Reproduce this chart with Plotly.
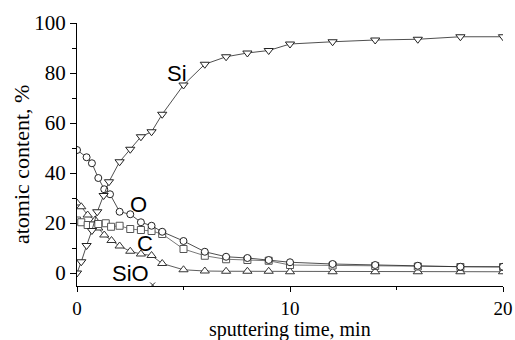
import plotly.graph_objects as go

# ---- data ----
si_x = [0, 0.2, 0.45, 0.7, 0.95, 1.25, 1.5, 2, 2.5, 3, 3.5, 4, 5, 6, 7, 8, 9, 10, 12, 14, 16, 18, 20]
si_y = [0, 4.5, 11, 17, 24.5, 31, 36.5, 44.5, 49.5, 54.5, 56.5, 63.5, 75.2, 83.5, 86.5, 88, 89, 91.6, 92.5, 93.2, 93.5, 94.5, 94.5]

o_x = [0, 0.45, 0.7, 1.0, 1.28, 1.55, 2, 2.5, 3, 3.5, 4, 5, 6, 7, 8, 9, 10, 12, 14, 16, 18, 20]
o_y = [49.2, 46.3, 43.9, 38, 33.5, 31.5, 24.5, 23.5, 20.3, 18.9, 16.5, 12.8, 8.5, 6.5, 6, 5.2, 4.3, 3.6, 3.2, 2.9, 2.5, 2.5]

c_x = [0, 0.2, 0.5, 0.75, 1.0, 1.35, 1.6, 2, 2.5, 3, 3.5, 4, 5, 6, 7, 8, 9, 10, 12, 14, 16, 18, 20]
c_y = [21, 20.3, 19.2, 19, 19.6, 19.9, 18.5, 18.9, 17.6, 17.2, 16.8, 15.6, 9.6, 6.9, 5.5, 5.2, 4.9, 3.2, 3.0, 2.8, 2.6, 2.4, 2.4]

sio_x = [0, 0.2, 0.5, 0.85, 1.0, 1.28, 1.62, 2, 2.5, 3, 3.5, 4, 5, 6, 7, 8, 9, 10, 12, 14, 16, 18, 20]
sio_y = [28, 26.5, 23.2, 21.2, 18, 15.2, 13, 10.8, 8.7, 7.6, 7.0, 3.8, 1.3, 0.8, 0.7, 0.7, 0.7, 0.5, 0.5, 0.5, 0.5, 0.5, 0.5]

x_mark_x = [3.55]
x_mark_y = [-4.8]

labels = ["Si", "O", "C", "SiO"]
label_x = [4.7, 2.9, 3.2, 2.5]
label_y = [80, 27.5, 12, 0]

x_title = "sputtering time, min"
y_title = "atomic content, %"

fig = go.Figure()

def add(xs, ys, symbol, col, size):
    fig.add_trace(go.Scatter(
        x=xs, y=ys, mode="lines+markers",
        line=dict(color=col, width=0.8),
        marker=dict(symbol=symbol, size=size, color="white",
                    line=dict(color=col, width=1)),
        showlegend=False,
    ))

add(sio_x, sio_y, "triangle-up", "#333333", 8)
add(c_x, c_y, "square", "#555555", 7)
add(o_x, o_y, "circle", "#222222", 7)
add(si_x, si_y, "triangle-down", "#222222", 8)

fig.add_trace(go.Scatter(
    x=x_mark_x, y=x_mark_y, mode="markers",
    marker=dict(symbol="x-thin", size=5, line=dict(color="#222222", width=1)),
    showlegend=False,
))

for t, xx, yy in zip(labels, label_x, label_y):
    fig.add_annotation(x=xx, y=yy, text=t, showarrow=False,
                       font=dict(family="Liberation Sans", size=22, color="black"),
                       xanchor="center", yanchor="middle")

ytick_font = dict(family="Liberation Serif", size=21, color="black")
xtick_font = dict(family="Liberation Serif", size=19, color="black")
ytitle_font = dict(family="Liberation Serif", size=22, color="black")
xtitle_font = dict(family="Liberation Serif", size=20, color="black")

# axis titles as annotations for exact placement
fig.add_annotation(xref="paper", yref="paper", x=0.5, y=0, yanchor="top",
                   xanchor="center", yshift=-31, text=x_title,
                   showarrow=False, font=xtitle_font, borderpad=0)
fig.add_annotation(xref="paper", yref="paper", x=0, y=0.46, xanchor="center",
                   yanchor="middle", xshift=-56, textangle=-90, text=y_title,
                   showarrow=False, font=ytitle_font)

fig.update_xaxes(
    range=[0, 20], dtick=10, tick0=0,
    showline=True, linecolor="black", linewidth=1.3,
    ticks="outside", ticklen=5, tickwidth=1.2, tickcolor="black",
    minor=dict(dtick=5, ticklen=3, ticks="outside", tickcolor="black", tickwidth=1),
    showgrid=False, zeroline=False,
    tickfont=xtick_font,
    automargin=False,
)
fig.update_yaxes(
    range=[-5.2, 100], dtick=20, tick0=0,
    showline=True, linecolor="black", linewidth=1.3,
    ticks="outside", ticklen=6, tickwidth=1.2, tickcolor="black",
    minor=dict(dtick=10, ticklen=4, ticks="outside", tickcolor="black", tickwidth=1),
    showgrid=False, zeroline=False,
    tickfont=ytick_font,
    automargin=False,
)

fig.update_layout(
    width=515, height=340,
    margin=dict(l=77, r=12, t=23, b=54),
    plot_bgcolor="white", paper_bgcolor="white",
)

fig.write_html("out.html")
